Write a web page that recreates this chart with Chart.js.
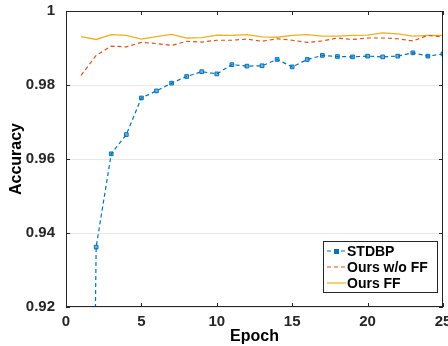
<!DOCTYPE html>
<html>
<head>
<meta charset="utf-8">
<script src="https://cdn.jsdelivr.net/npm/chart.js@4/dist/chart.umd.min.js"></script>
<style>
  html, body { margin: 0; padding: 0; background: #fff; overflow: hidden; }
  canvas { display: block; }
</style>
</head>
<body>
<canvas id="chart" width="448" height="346"></canvas>
<script>
// epochs 1..25
const epochs = [1,2,3,4,5,6,7,8,9,10,11,12,13,14,15,16,17,18,19,20,21,22,23,24,25];

const stdbp = [0.60, 0.9362, 0.9614, 0.9666, 0.9765, 0.9784, 0.9805, 0.9823, 0.9836, 0.9830,
  0.9855, 0.9851, 0.9852, 0.9869, 0.9849, 0.9869, 0.9880, 0.9877, 0.9876, 0.9878,
  0.9876, 0.9878, 0.9887, 0.9878, 0.9884];

const oursNoFF = [0.9826, 0.9880, 0.9905, 0.9903, 0.9915, 0.9912, 0.9907, 0.9918, 0.9916, 0.9921,
  0.9921, 0.9924, 0.9918, 0.9925, 0.9921, 0.9915, 0.9919, 0.9927, 0.9923, 0.9927,
  0.9927, 0.9925, 0.9919, 0.9934, 0.9930];

const oursFF = [0.9931, 0.9923, 0.9936, 0.9934, 0.9924, 0.9931, 0.9937, 0.9927, 0.9928, 0.9935,
  0.9934, 0.9936, 0.9930, 0.9929, 0.9934, 0.9936, 0.9932, 0.9932, 0.9934, 0.9935,
  0.9941, 0.9938, 0.9932, 0.9934, 0.9934];

const yTicks = [0.92, 0.94, 0.96, 0.98, 1];
const xTicks = [0, 5, 10, 15, 20, 25];

const FONT = "'Liberation Sans', Arial, sans-serif";
const axisColor = '#262626';

const toPts = (vals) => vals.map((v, i) => ({ x: epochs[i], y: v }));

// box, inward ticks and legend drawn like the matlab figure
const frame = {
  id: 'frame',
  afterDraw(chart) {
    const { ctx, chartArea: a, scales } = chart;
    ctx.save();
    ctx.strokeStyle = axisColor;
    ctx.lineWidth = 1;
    ctx.strokeRect(a.left + 0.5, a.top + 0.5, a.right - a.left - 1, a.bottom - a.top - 1);
    ctx.beginPath();
    xTicks.forEach(t => {
      const px = Math.round(scales.x.getPixelForValue(t)) + 0.5;
      ctx.moveTo(px, a.bottom); ctx.lineTo(px, a.bottom - 4);
      ctx.moveTo(px, a.top); ctx.lineTo(px, a.top + 4);
    });
    yTicks.forEach(t => {
      const py = Math.round(scales.y.getPixelForValue(t)) + 0.5;
      ctx.moveTo(a.left, py); ctx.lineTo(a.left + 4, py);
      ctx.moveTo(a.right, py); ctx.lineTo(a.right - 4, py);
    });
    ctx.stroke();

    // legend
    const lx = 323, ly = 241, lw = 114, lh = 51;
    ctx.fillStyle = '#fff';
    ctx.fillRect(lx, ly, lw, lh);
    ctx.strokeRect(lx + 0.5, ly + 0.5, lw, lh);
    ctx.font = 'bold 14px ' + FONT;
    ctx.textBaseline = 'middle';
    chart.data.datasets.forEach((ds, i) => {
      const y = ly + 10 + i * 16;
      ctx.strokeStyle = ds.borderColor;
      ctx.lineWidth = 1.2;
      ctx.setLineDash(ds.borderDash || []);
      ctx.beginPath();
      ctx.moveTo(lx + 4, y); ctx.lineTo(lx + 23, y);
      ctx.stroke();
      ctx.setLineDash([]);
      if (ds.pointRadius > 0) {
        ctx.fillStyle = ds.borderColor;
        ctx.fillRect(lx + 11, y - 2, 5, 5);
      }
      ctx.fillStyle = '#000';
      ctx.fillText(ds.label, lx + 24, y + 1);
    });
    ctx.restore();
  }
};

new Chart(document.getElementById('chart'), {
  type: 'line',
  data: {
    datasets: [
      {
        label: 'STDBP',
        data: toPts(stdbp),
        borderColor: '#0072BD',
        backgroundColor: 'rgba(0,114,189,0.55)',
        borderWidth: 1.2,
        borderDash: [4, 3],
        pointStyle: 'rect',
        pointRadius: 2.6,
        pointBorderWidth: 1,
        pointBorderColor: '#0072BD'
      },
      {
        label: 'Ours w/o FF',
        data: toPts(oursNoFF),
        borderColor: '#D95319',
        borderWidth: 1.2,
        borderDash: [4, 3],
        pointRadius: 0
      },
      {
        label: 'Ours FF',
        data: toPts(oursFF),
        borderColor: '#EDB120',
        borderWidth: 1.3,
        pointRadius: 0
      }
    ]
  },
  options: {
    responsive: false,
    animation: false,
    devicePixelRatio: 1,
    layout: { padding: { top: 11, right: 4, left: 0, bottom: 0 } },
    plugins: { legend: { display: false }, tooltip: { enabled: false } },
    scales: {
      x: {
        type: 'linear',
        min: 0, max: 25,
        grid: { display: false, drawTicks: false },
        border: { display: false },
        ticks: {
          stepSize: 5, color: '#262626', padding: 6,
          font: { family: FONT, size: 15, weight: 'bold' },
          maxRotation: 0
        },
        title: {
          display: true, text: 'Epoch', color: '#000',
          font: { family: FONT, size: 16, weight: 'bold' },
          padding: { top: 2, bottom: 0 }
        },
        afterFit(s) { s.height = 39; s.paddingLeft = 0; s.paddingRight = 0; }
      },
      y: {
        min: 0.92, max: 1,
        grid: { color: '#e8e8e8', drawTicks: false },
        border: { display: false },
        ticks: {
          stepSize: 0.02, color: '#262626', padding: 11,
          font: { family: FONT, size: 15, weight: 'bold' },
          callback: v => String(+v.toFixed(2))
        },
        title: {
          display: true, text: 'Accuracy', color: '#000',
          font: { family: FONT, size: 16, weight: 'bold' },
          padding: { top: 7, bottom: 0 }
        },
        afterFit(s) { s.width = 66; s.paddingTop = 0; s.paddingBottom = 0; }
      }
    }
  },
  plugins: [frame]
});
</script>
</body>
</html>
